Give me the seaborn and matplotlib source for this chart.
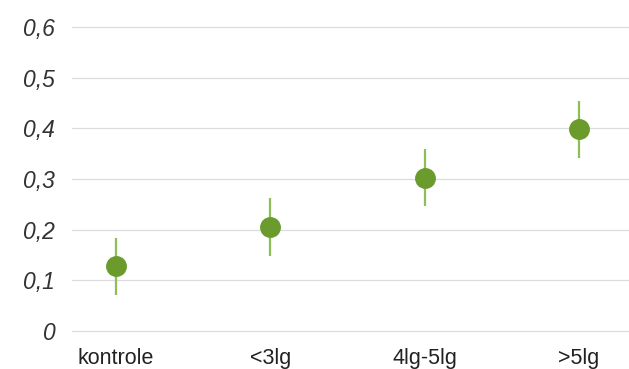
import matplotlib
matplotlib.use("Agg")
import matplotlib.pyplot as plt
import seaborn as sns
import pandas as pd
import numpy as np

# === data ===
groups = ["kontrole", "<3lg", "4lg-5lg", ">5lg"]
values = [0.128, 0.205, 0.302, 0.399]
lower = [0.071, 0.148, 0.247, 0.341]
upper = [0.184, 0.262, 0.359, 0.454]
y_ticks = [0, 0.1, 0.2, 0.3, 0.4, 0.5, 0.6]

df = pd.DataFrame({"group": groups, "value": values, "lo": lower, "hi": upper})

sns.set_theme(style="white")
plt.rcParams["font.family"] = ["Liberation Sans", "DejaVu Sans"]

fig = plt.figure(figsize=(6.29, 3.69), dpi=100)
ax = fig.add_axes([72 / 629, 1 - 331 / 369, 1 - 72 / 629, 304 / 369])

# horizontal grid lines
for t in y_ticks:
    ax.axhline(t, color="#dcdcdc", lw=0.9, zorder=0, clip_on=False)

# error bars (drawn first so the dots sit on top)
x = np.arange(len(groups))
ax.vlines(x, df["lo"], df["hi"], color="#8dbf58", lw=1.6, zorder=2)

# the dots
sns.pointplot(data=df, x="group", y="value", order=groups, color="#6a9b2c",
              linestyle="none", markersize=13, errorbar=None, ax=ax, zorder=3)

ax.set_xlim(-0.285, 3.325)
ax.set_ylim(0, 0.6)
ax.set_yticks(y_ticks)
ax.set_yticklabels([f"{t:.1f}".replace(".", ",") if t else "0" for t in y_ticks],
                   fontsize=16.5, style="italic", color="#333333")
ax.set_xticks(x)
ax.set_xticklabels(groups, fontsize=15.5, color="#222222")
ax.tick_params(axis="y", length=0, pad=12)
ax.tick_params(axis="x", length=0, pad=12)
for s in ax.spines.values():
    s.set_visible(False)
ax.set_xlabel("")
ax.set_ylabel("")
ax.set_facecolor("white")

fig.savefig("out.png", dpi=100)
